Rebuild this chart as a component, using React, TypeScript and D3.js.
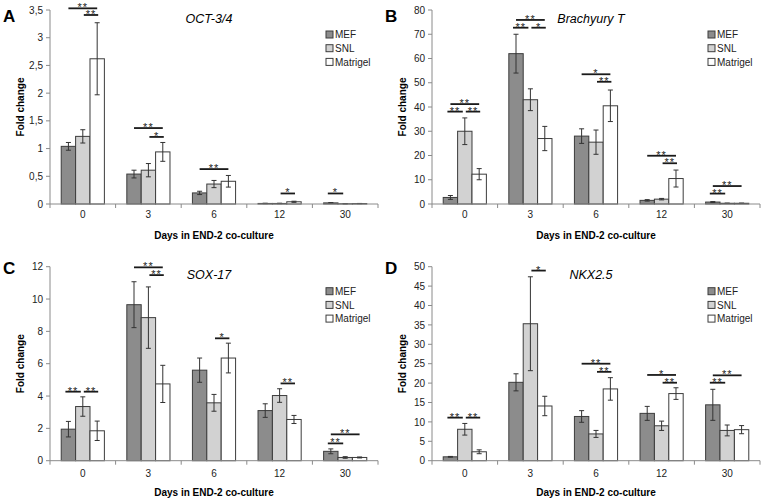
import React from "react";
import * as d3 from "d3";

const days = ["0", "3", "6", "12", "30"];
const seriesNames = ["MEF", "SNL", "Matrigel"];

// OCT-3/4
const octMEF = [1.04, 0.54, 0.2, 0.01, 0.02];
const octMEFErr = [0.07, 0.07, 0.03, 0.004, 0.005];
const octSNL = [1.22, 0.61, 0.36, 0.01, 0.005];
const octSNLErr = [0.12, 0.12, 0.065, 0.004, 0.002];
const octMat = [2.62, 0.94, 0.41, 0.04, 0.008];
const octMatErr = [0.65, 0.17, 0.105, 0.01, 0.002];
const octSig: [number, number, number, number, string][] = [
  [0, 0, 2, 3.53, "**"], [0, 1, 2, 3.41, "**"],
  [1, 0, 2, 1.37, "**"], [1, 1, 2, 1.21, "*"],
  [2, 0, 2, 0.63, "**"], [3, 1, 2, 0.19, "*"], [4, 0, 1, 0.19, "*"],
];

// Brachyury T
const braMEF = [2.7, 62, 28, 1.5, 0.8];
const braMEFErr = [0.8, 8, 3, 0.3, 0.2];
const braSNL = [30, 43, 25.5, 2.0, 0.3];
const braSNLErr = [5.5, 4.5, 5, 0.3, 0.05];
const braMat = [12.3, 27, 40.5, 10.5, 0.3];
const braMatErr = [2.3, 5, 6.5, 3.5, 0.05];
const braSig: [number, number, number, number, string][] = [
  [0, 0, 2, 41.2, "**"], [0, 0, 1, 38.1, "**"], [0, 1, 2, 38.1, "**"],
  [1, 0, 2, 75.9, "**"], [1, 0, 1, 72.7, "**"], [1, 1, 2, 72.7, "*"],
  [2, 0, 2, 53.5, "*"], [2, 1, 2, 50.4, "**"],
  [3, 0, 2, 19.9, "**"], [3, 1, 2, 16.8, "**"],
  [4, 0, 2, 7.4, "**"], [4, 0, 1, 4.3, "**"],
];

// SOX-17
const soxMEF = [1.95, 9.65, 5.6, 3.1, 0.58];
const soxMEFErr = [0.48, 1.42, 0.75, 0.42, 0.15];
const soxSNL = [3.35, 8.85, 3.58, 4.03, 0.2];
const soxSNLErr = [0.6, 1.9, 0.52, 0.42, 0.05];
const soxMat = [1.85, 4.75, 6.35, 2.55, 0.2];
const soxMatErr = [0.6, 1.15, 0.92, 0.25, 0.03];
const soxSig: [number, number, number, number, string][] = [
  [0, 0, 1, 4.27, "**"], [0, 1, 2, 4.27, "**"],
  [1, 0, 2, 11.96, "**"], [1, 1, 2, 11.48, "**"],
  [2, 1, 2, 7.57, "*"], [3, 1, 2, 4.78, "**"],
  [4, 0, 2, 1.63, "**"], [4, 0, 1, 1.07, "**"],
];

// NKX2.5
const nkxMEF = [1.0, 20.2, 11.4, 12.2, 14.4];
const nkxMEFErr = [0.1, 2.2, 1.5, 1.8, 4.0];
const nkxSNL = [8.1, 35.3, 6.9, 9.0, 7.8];
const nkxSNLErr = [1.5, 12.1, 0.9, 1.2, 1.4];
const nkxMat = [2.3, 14.1, 18.5, 17.3, 8.0];
const nkxMatErr = [0.5, 2.5, 2.9, 1.5, 1.05];
const nkxSig: [number, number, number, number, string][] = [
  [0, 0, 1, 11.1, "**"], [0, 1, 2, 11.1, "**"],
  [1, 1, 2, 49.0, "*"],
  [2, 0, 2, 25.0, "**"], [2, 1, 2, 22.9, "**"],
  [3, 0, 2, 22.1, "*"], [3, 1, 2, 20.1, "**"],
  [4, 0, 2, 22.0, "**"], [4, 0, 1, 20.1, "**"],
];

const yTicksA = [0, 0.5, 1, 1.5, 2, 2.5, 3, 3.5];
const yTicksB = [0, 10, 20, 30, 40, 50, 60, 70, 80];
const yTicksC = [0, 2, 4, 6, 8, 10, 12];
const yTicksD = [0, 5, 10, 15, 20, 25, 30, 35, 40, 45, 50];

const FILLS = ["#8c8c8c", "#d2d2d2", "#ffffff"];
const FONT = "'Liberation Sans', Arial, sans-serif";
const AXIS = "#8a8a8a";

interface PanelDef {
  letter: string;
  title: string;
  x0: number; x1: number; top: number; bottom: number;
  letterY: number;
  tickLabelDy: number;
  ticks: number[];
  values: number[][];
  errors: number[][];
  sig: [number, number, number, number, string][];
}

const panels: PanelDef[] = [
  { letter: "A", title: "OCT-3/4", x0: 50, x1: 378, top: 10, bottom: 204, letterY: 22, tickLabelDy: 14,
    ticks: yTicksA, values: [octMEF, octSNL, octMat], errors: [octMEFErr, octSNLErr, octMatErr], sig: octSig },
  { letter: "B", title: "Brachyury T", x0: 432, x1: 760, top: 10, bottom: 204, letterY: 22, tickLabelDy: 14,
    ticks: yTicksB, values: [braMEF, braSNL, braMat], errors: [braMEFErr, braSNLErr, braMatErr], sig: braSig },
  { letter: "C", title: "SOX-17", x0: 50, x1: 378, top: 266.7, bottom: 460.7, letterY: 274, tickLabelDy: 16,
    ticks: yTicksC, values: [soxMEF, soxSNL, soxMat], errors: [soxMEFErr, soxSNLErr, soxMatErr], sig: soxSig },
  { letter: "D", title: "NKX2.5", x0: 432, x1: 760, top: 266.7, bottom: 460.7, letterY: 274, tickLabelDy: 16,
    ticks: yTicksD, values: [nkxMEF, nkxSNL, nkxMat], errors: [nkxMEFErr, nkxSNLErr, nkxMatErr], sig: nkxSig },
];

const fmt = (v: number) => String(v).replace(".", ",");

function Panel({ p }: { p: PanelDef }) {
  const x = d3.scaleBand<string>().domain(days).range([p.x0, p.x1]).padding(0);
  const xs = d3.scaleBand<string>().domain(seriesNames).range([0, x.bandwidth()])
    .paddingInner(0).paddingOuter(0.78);
  const yMax = p.ticks[p.ticks.length - 1];
  const y = d3.scaleLinear().domain([0, yMax]).range([p.bottom, p.top]);
  const bw = xs.bandwidth();
  const center = (c: number, s: number) => (x(days[c]) as number) + (xs(seriesNames[s]) as number) + bw / 2;
  const boundaries = d3.range(days.length + 1).map((i) => p.x0 + i * x.bandwidth());
  const midY = (p.top + p.bottom) / 2;
  const legX = p.x1 - 52;
  const legY0 = p.top + 24.5;

  return (
    <g>
      <text x={p.x0 - 47} y={p.letterY} fontSize={17} fontWeight="bold" fontFamily={FONT}>{p.letter}</text>
      <text x={(p.x0 + p.x1) / 2 - 5} y={p.top + 12.5} fontSize={12.5} fontStyle="italic" textAnchor="middle" fontFamily={FONT}>{p.title}</text>
      {/* y axis */}
      <line x1={p.x0} x2={p.x0} y1={p.top} y2={p.bottom} stroke={AXIS} strokeWidth={1} />
      {p.ticks.map((t) => (
        <g key={t}>
          <line x1={p.x0 - 4} x2={p.x0} y1={y(t)} y2={y(t)} stroke={AXIS} />
          <text x={p.x0 - 7} y={y(t) + 3.6} fontSize={10} textAnchor="end" fontFamily={FONT} fill="#222">{fmt(t)}</text>
        </g>
      ))}
      {/* bars */}
      {p.values.map((vals, s) =>
        vals.map((v, c) => {
          const bx = (x(days[c]) as number) + (xs(seriesNames[s]) as number);
          return (
            <rect key={`${s}-${c}`} x={bx} y={y(v)} width={bw} height={p.bottom - y(v)}
              fill={FILLS[s]} stroke="#3c3c3c" strokeWidth={1} />
          );
        })
      )}
      {/* error bars */}
      {p.values.map((vals, s) =>
        vals.map((v, c) => {
          const cx = center(c, s);
          const e = p.errors[s][c];
          const lo = y(Math.max(0, v - e));
          const hi = y(v + e);
          return (
            <g key={`e${s}-${c}`} stroke="#333" strokeWidth={1}>
              <line x1={cx} x2={cx} y1={hi} y2={lo} />
              <line x1={cx - 2.5} x2={cx + 2.5} y1={hi} y2={hi} />
              <line x1={cx - 2.5} x2={cx + 2.5} y1={lo} y2={lo} />
            </g>
          );
        })
      )}
      {/* x axis */}
      <line x1={p.x0} x2={p.x1} y1={p.bottom} y2={p.bottom} stroke={AXIS} />
      {boundaries.map((bx, i) => (
        <line key={i} x1={bx} x2={bx} y1={p.bottom} y2={p.bottom + 4} stroke={AXIS} />
      ))}
      {days.map((d) => (
        <text key={d} x={(x(d) as number) + x.bandwidth() / 2} y={p.bottom + p.tickLabelDy} fontSize={10}
          textAnchor="middle" fontFamily={FONT} fill="#222">{d}</text>
      ))}
      <text x={(p.x0 + p.x1) / 2} y={p.bottom + 35} fontSize={10} fontWeight="bold" textAnchor="middle" fontFamily={FONT}>Days in END-2 co-culture</text>
      <text transform={`translate(${p.x0 - 26},${midY}) rotate(-90)`} fontSize={10} fontWeight="bold" textAnchor="middle" fontFamily={FONT}>Fold change</text>
      {/* significance */}
      {p.sig.map(([c, a, b, lvl, lab], i) => {
        let xa = center(c, a);
        let xb = center(c, b);
        if (a === 0 && b === 1) { xa -= 3; xb -= 2; }
        if (a === 1 && b === 2) { xa += 1; xb += 1; }
        const ly = y(lvl);
        return (
          <g key={`s${i}`}>
            <line x1={xa} x2={xb} y1={ly} y2={ly} stroke="#1a1a1a" strokeWidth={1.8} />
            <text x={(xa + xb) / 2} y={ly + 3} fontSize={11} letterSpacing={1} textAnchor="middle" fontFamily={FONT} fill="#222">{lab}</text>
          </g>
        );
      })}
      {/* legend */}
      {seriesNames.map((n, s) => (
        <g key={n}>
          <rect x={legX} y={legY0 + s * 13.7 - 3.5} width={7} height={7} fill={FILLS[s]} stroke="#3c3c3c" strokeWidth={1} />
          <text x={legX + 9} y={legY0 + s * 13.7 + 3.6} fontSize={10} fontFamily={FONT} fill="#222">{n}</text>
        </g>
      ))}
    </g>
  );
}

export default function App() {
  return (
    <svg width={764} height={501} style={{ position: "absolute", left: 0, top: 0, background: "#fff" }}>
      <rect width={764} height={501} fill="#fff" />
      {panels.map((p) => <Panel key={p.letter} p={p} />)}
    </svg>
  );
}
